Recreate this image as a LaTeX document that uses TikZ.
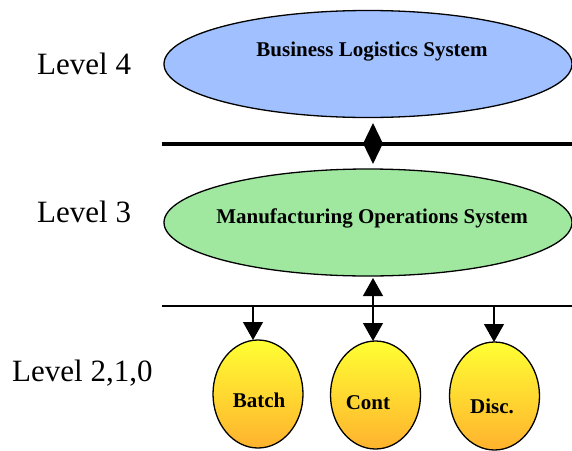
\documentclass[tikz,border=0pt]{standalone}
\usepackage{fontspec}
\setmainfont{Liberation Serif}
\usetikzlibrary{shapes.geometric,arrows.meta}
\definecolor{bluefill}{HTML}{A0C0FF}
\definecolor{greenfill}{HTML}{A0E8A0}
\definecolor{yeltop}{HTML}{FFFF33}
\definecolor{yelbot}{HTML}{FFB22E}
\tikzset{
  sysell/.style={ellipse, draw=black, line width=1.3pt, minimum width=408pt, minimum height=107pt, inner sep=0pt},
  ctrl/.style={ellipse, draw=black, line width=1.3pt, top color=yeltop, bottom color=yelbot, minimum width=90pt, minimum height=108pt, inner sep=0pt},
  lvl/.style={font=\fontsize{31}{33}\selectfont, inner sep=0pt},
  sysfont/.style={font=\fontsize{21}{23}\selectfont\bfseries, inner sep=0pt},
  arr/.style={line width=1.2pt, -{Triangle[width=20pt,length=18pt]}},
}
\begin{document}
\begin{tikzpicture}[x=1pt,y=-1pt]
\useasboundingbox (0,0) rectangle (572,450);
% ellipses
\node[sysell, fill=bluefill] (bls) at (368,64) {};
\node[sysell, fill=greenfill] (mos) at (368,222.5) {};
\node[sysfont] (blst) at (372,52) {Business Logistics System};
\node[sysfont] (most) at (372,218) {Manufacturing Operations System};
% thick bus
\coordinate (b1l) at (162,144);
\coordinate (b1r) at (572,144);
\draw[line width=3.5pt] (b1l) -- (b1r);
\node[diamond, fill=black, draw=none, minimum width=20pt, minimum height=41pt, inner sep=0pt, aspect=0.5] (dia) at (373,143.5) {};
% thin bus
\coordinate (b2l) at (162,306);
\coordinate (b2r) at (572,306);
\draw[line width=1.5pt] (b2l) -- (b2r);
% controllers
\node[ctrl] (batch) at (258,394) {};
\node[ctrl] (cont) at (375.5,395) {};
\node[ctrl] (disc) at (494.5,396) {};
\node[sysfont] (batcht) at (259,400) {Batch};
\node[sysfont] (contt) at (368,403) {Cont};
\node[sysfont] (disct) at (492,406) {Disc.};
% arrows
\coordinate (ua) at (373,306);
\coordinate (ue) at (373,278);
\draw[arr] (ua) -- (ue);
\coordinate (d1) at (253,306);
\coordinate (d2) at (373,306);
\coordinate (d3) at (494,306);
\coordinate (e1) at (253,340);
\coordinate (e2) at (373,341);
\coordinate (e3) at (494,342);
\draw[arr] (d1) -- (e1);
\draw[arr] (d2) -- (e2);
\draw[arr] (d3) -- (e3);
% level labels
\node[lvl, anchor=west] (l4) at (37,64) {Level 4};
\node[lvl, anchor=west] (l3) at (37,212) {Level 3};
\node[lvl, anchor=west] (l2) at (12,373) {Level 2,1,0};
\end{tikzpicture}
\end{document}
